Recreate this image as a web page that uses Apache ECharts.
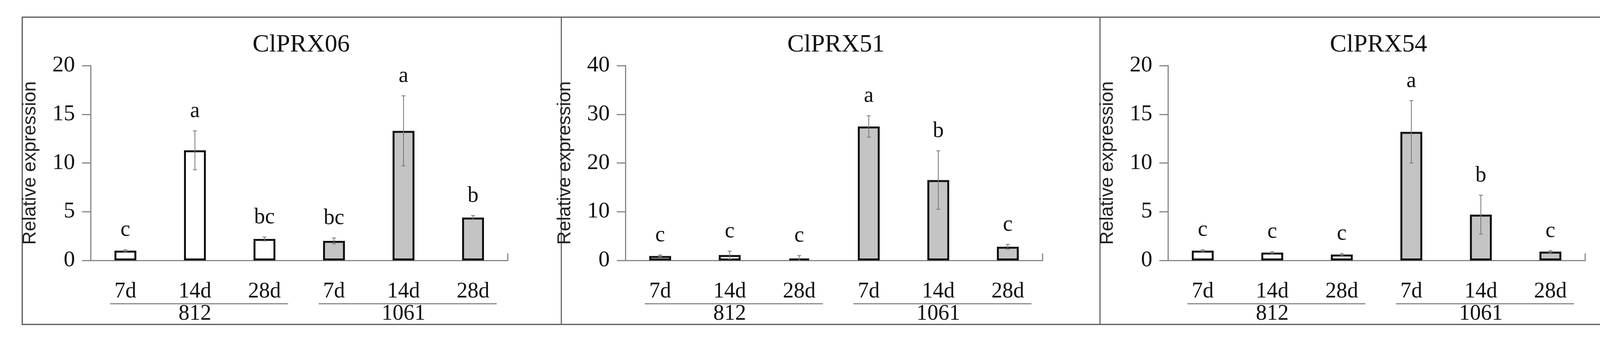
<!DOCTYPE html>
<html><head><meta charset="utf-8">
<script src="https://cdn.jsdelivr.net/npm/echarts@6/dist/echarts.min.js"></script>
<style>html,body{margin:0;padding:0;background:#fff}#c{width:4245px;height:876px}</style>
</head><body><div id="c"></div>
<script>
const categories = ['7d','14d','28d','7d','14d','28d'];
const groups = ['812','1061'];
const titles = ['ClPRX06','ClPRX51','ClPRX54'];
const yMax = [20, 40, 20];
const yInterval = [5, 10, 5];
const values06 = [1.0, 11.3, 2.2, 2.0, 13.3, 4.4];
const errors06 = [0.1, 2.0, 0.2, 0.3, 3.6, 0.2];
const letters06 = ['c','a','bc','bc','a','b'];
const values51 = [0.9, 1.1, 0.4, 27.5, 16.5, 2.8];
const errors51 = [0.2, 0.8, 0.6, 2.2, 6.0, 0.5];
const letters51 = ['c','c','c','a','b','c'];
const values54 = [1.0, 0.8, 0.6, 13.2, 4.7, 0.9];
const errors54 = [0.1, 0.1, 0.1, 3.2, 2.0, 0.1];
const letters54 = ['c','c','c','a','b','c'];

const values = [values06, values51, values54];
const errors = [errors06, errors51, errors54];
const letters = [letters06, letters51, letters54];
const lefts = [232, 1601, 2990];
const W = 1068;
const TOP = 168, H = 499;
const serif = 'Liberation Serif';
const chart = echarts.init(document.getElementById('c'));

const grid = [], xAxis = [], yAxis = [], series = [], title = [];
for (let p = 0; p < 3; p++) {
  grid.push({left: lefts[p], width: W, top: TOP, height: H});
  title.push({text: titles[p], left: lefts[p] + W/2, top: 110, textAlign: 'center', textVerticalAlign: 'middle',
    textStyle: {fontFamily: serif, fontSize: 64, fontWeight: 'normal', color: '#111'}});
  xAxis.push({type: 'category', gridIndex: p, data: categories,
    axisLine: {lineStyle: {color: '#888', width: 3}},
    axisTick: {inside: true, alignWithLabel: true, length: 16, lineStyle: {color: '#888', width: 2}},
    axisLabel: {fontFamily: serif, fontSize: 56, color: '#111', margin: 52}});
  yAxis.push({type: 'value', gridIndex: p, min: 0, max: yMax[p], interval: yInterval[p],
    splitLine: {show: false},
    axisLine: {show: true, lineStyle: {color: '#888', width: 3}},
    axisTick: {show: true, length: 22, lineStyle: {color: '#888', width: 3}},
    axisLabel: {fontFamily: serif, fontSize: 58, color: '#111', margin: 40},
    name: 'Relative expression', nameLocation: 'middle', nameGap: 130, nameRotate: 90,
    nameTextStyle: {fontFamily: 'Liberation Sans', fontSize: 48, color: '#222'}});
  series.push({type: 'bar', xAxisIndex: p, yAxisIndex: p, barWidth: 56,
    data: values[p].map((v, i) => ({value: v, itemStyle: {color: i < 3 ? '#ffffff' : '#c4c4c4'}})),
    itemStyle: {borderColor: '#111', borderWidth: 5}});
  const ed = values[p].map((v, i) => [i, v, errors[p][i], letters[p][i]]);
  series.push({type: 'custom', xAxisIndex: p, yAxisIndex: p, data: ed, z: 5,
    renderItem: function (params, api) {
      const x = api.value(0), v = api.value(1), e = api.value(2);
      const top = api.coord([x, v + e]), bot = api.coord([x, Math.max(0, v - e)]);
      const st = {stroke: '#777', lineWidth: 2};
      return {type: 'group', children: [
        {type: 'line', shape: {x1: top[0], y1: top[1], x2: bot[0], y2: bot[1]}, style: st},
        {type: 'line', shape: {x1: top[0]-5, y1: top[1], x2: top[0]+5, y2: top[1]}, style: st},
        {type: 'line', shape: {x1: bot[0]-5, y1: bot[1], x2: bot[0]+5, y2: bot[1]}, style: st},
        {type: 'text', style: {text: ed[params.dataIndex][3], x: top[0], y: top[1] - 22,
          align: 'center', verticalAlign: 'bottom', font: '56px "Liberation Serif"', fill: '#111'}}
      ]};
    }});
}
chart.setOption({animation: false, title, grid, xAxis, yAxis, series});

const g = [
  {type: 'rect', shape: {x: 57, y: 44, width: 4140, height: 787}, style: {fill: 'none', stroke: '#555', lineWidth: 3}},
  {type: 'line', shape: {x1: 1437, y1: 44, x2: 1437, y2: 831}, style: {stroke: '#666', lineWidth: 3}},
  {type: 'line', shape: {x1: 2816, y1: 44, x2: 2816, y2: 831}, style: {stroke: '#666', lineWidth: 3}}
];
for (let p = 0; p < 3; p++) {
  const cw = W / 6;
  const xe = lefts[p] + W, y0 = TOP + H;
  g.push({type: 'line', shape: {x1: xe, y1: y0, x2: xe, y2: y0 - 18}, style: {stroke: '#888', lineWidth: 3}});
  for (let k = 0; k < 2; k++) {
    const c0 = chart.convertToPixel({xAxisIndex: p}, k*3);
    const c1 = chart.convertToPixel({xAxisIndex: p}, k*3+1);
    const c2 = chart.convertToPixel({xAxisIndex: p}, k*3+2);
    g.push({type: 'line', shape: {x1: c0 - 0.22*cw, y1: 778, x2: c2 + 0.34*cw, y2: 778}, style: {stroke: '#888', lineWidth: 3}});
    g.push({type: 'text', style: {text: groups[k], x: c1, y: 804, align: 'center', verticalAlign: 'middle',
      font: '56px "Liberation Serif"', fill: '#111'}});
  }
}
chart.setOption({graphic: g});
</script></body></html>
